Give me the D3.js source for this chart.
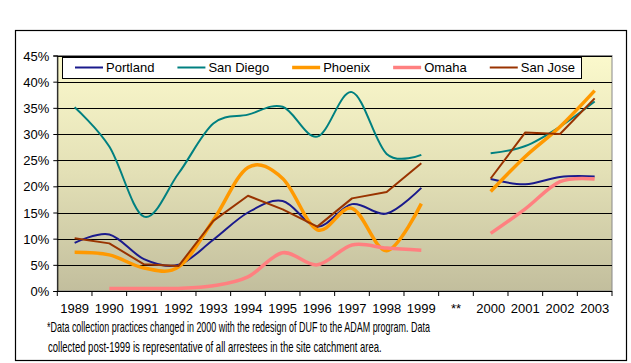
<!DOCTYPE html>
<html>
<head>
<meta charset="utf-8">
<script src="https://cdn.jsdelivr.net/npm/d3@7"></script>
<style>
  body { margin: 0; background: white; }
  text { font-family: "Liberation Sans", Arial, sans-serif; fill: black; }
</style>
</head>
<body>
<div id="chart"></div>
<script>
// categories along the x axis ("**" marks the break in data collection)
const categories = ["1989","1990","1991","1992","1993","1994","1995","1996","1997","1998","1999","**","2000","2001","2002","2003"];
const yTicks = [0, 0.05, 0.10, 0.15, 0.20, 0.25, 0.30, 0.35, 0.40, 0.45];

const seriesNames = ["Portland", "San Diego", "Phoenix", "Omaha", "San Jose"];
const seriesColors = ["#1a1a8c", "#008080", "#ff9900", "#ff8080", "#993300"];
const seriesWidths = [2, 2, 3.5, 3.5, 2];

// values in %, null = no value
const portland = [9.2, 10.8, 6.1, 5.0, 9.8, 15.0, 17.2, 12.3, 16.6, 14.8, 19.7, null, 21.4, 20.4, 21.8, 21.9];
const sanDiego = [35.1, 27.6, 14.2, 22.5, 32.0, 33.7, 35.2, 29.5, 38.0, 26.2, 26.0, null, 26.3, 27.7, 31.4, 36.2];
const phoenix  = [7.4, 6.9, 4.4, 4.6, 13.5, 23.6, 21.5, 11.7, 15.8, 7.7, 16.7, null, 19.0, 25.7, 31.4, 38.3];
const omaha    = [null, 0.5, 0.5, 0.5, 1.0, 2.7, 7.3, 5.0, 8.8, 8.2, 7.8, null, 11.0, 15.7, 20.9, 21.4];
const sanJose  = [10.1, 9.1, 5.1, 4.8, 13.4, 18.2, 15.6, 12.3, 17.7, 18.9, 24.4, null, 21.5, 30.3, 30.0, 36.8];

const seriesValues = [portland, sanDiego, phoenix, omaha, sanJose];
const smoothed = [true, true, true, true, false];

const footnote1 = "*Data collection practices changed in 2000 with the redesign of DUF to the ADAM program.  Data";
const footnote2 = "collected post-1999 is representative of all arrestees in the site catchment area.";

let dim = { width: 631, height: 363 };
let plot = { left: 57.3, right: 612, top: 55.5, bottom: 291 };

let svg = d3.select('#chart').append('svg')
    .attr('width', dim.width)
    .attr('height', dim.height);

// outer frame
svg.append('rect')
    .attr('x', 15.5).attr('y', 30.5)
    .attr('width', 611).attr('height', 330)
    .attr('fill', 'white')
    .attr('stroke', 'black')
    .attr('stroke-width', 1.2);

let defs = svg.append('defs');
let grad = defs.append('linearGradient')
    .attr('id', 'bg').attr('x1', 0).attr('y1', 0).attr('x2', 0).attr('y2', 1);
grad.append('stop').attr('offset', '0%').attr('stop-color', '#fbf9cc');
grad.append('stop').attr('offset', '50%').attr('stop-color', '#e3e0b6');
grad.append('stop').attr('offset', '100%').attr('stop-color', '#c2be9d');

let x = d3.scaleBand().domain(categories).range([plot.left, plot.right]).padding(0);
let y = d3.scaleLinear().domain([0, 0.45]).range([plot.bottom, plot.top]);

svg.append('rect')
    .attr('x', plot.left).attr('y', plot.top)
    .attr('width', plot.right - plot.left).attr('height', plot.bottom - plot.top)
    .attr('fill', 'url(#bg)')
    .attr('stroke', '#888')
    .attr('stroke-width', 1);

// gridlines
svg.append('g').selectAll('line')
    .data(yTicks.slice(1))
    .join('line')
    .attr('x1', plot.left).attr('x2', plot.right)
    .attr('y1', d => Math.round(y(d)) + 0.5).attr('y2', d => Math.round(y(d)) + 0.5)
    .attr('stroke', 'black').attr('stroke-width', 1);

// y axis
let yAxis = d3.axisLeft(y).tickValues(yTicks).tickFormat(d3.format('.0%')).tickSize(4).tickPadding(4);
let gy = svg.append('g')
    .attr('transform', `translate(${plot.left},0)`)
    .call(yAxis);
gy.selectAll('text').style('font-size', '13px').attr('dy', '0.35em');
gy.select('.domain').attr('stroke', 'black');

// x axis: ticks at category boundaries
let gx = svg.append('g').attr('transform', `translate(0,${plot.bottom})`);
gx.append('line')
    .attr('x1', plot.left).attr('x2', plot.right)
    .attr('y1', 0.5).attr('y2', 0.5).attr('stroke', 'black');
gx.selectAll('line.tick')
    .data(categories.concat(['end']))
    .join('line')
    .attr('class', 'tick')
    .attr('x1', (d, i) => i < categories.length ? x(d) : plot.right)
    .attr('x2', (d, i) => i < categories.length ? x(d) : plot.right)
    .attr('y1', 0).attr('y2', 5)
    .attr('stroke', 'black');
gx.selectAll('text')
    .data(categories)
    .join('text')
    .attr('x', d => x(d) + x.bandwidth() / 2)
    .attr('y', 22)
    .attr('text-anchor', 'middle')
    .style('font-size', '13px')
    .text(d => d);

// lines
seriesValues.forEach(function(vals, s) {
    let line = d3.line()
        .defined(d => d != null)
        .x((d, i) => x(categories[i]) + x.bandwidth() / 2)
        .y(d => y(d / 100))
        .curve(smoothed[s] ? d3.curveCardinal.tension(0) : d3.curveLinear);
    svg.append('path')
        .datum(vals)
        .attr('d', line)
        .attr('fill', 'none')
        .attr('stroke', seriesColors[s])
        .attr('stroke-width', seriesWidths[s])
        .attr('stroke-linejoin', 'round')
        .attr('stroke-linecap', 'butt');
});

// legend
let legend = svg.append('g');
legend.append('rect')
    .attr('x', 62.5).attr('y', 57.5)
    .attr('width', 519).attr('height', 21)
    .attr('fill', 'white').attr('stroke', 'black').attr('stroke-width', 1);
let lx = 75;
seriesNames.forEach(function(name, s) {
    legend.append('line')
        .attr('x1', lx).attr('x2', lx + 28)
        .attr('y1', 67.5).attr('y2', 67.5)
        .attr('stroke', seriesColors[s])
        .attr('stroke-width', seriesWidths[s]);
    let t = legend.append('text')
        .attr('x', lx + 31).attr('y', 72)
        .style('font-size', '13px')
        .text(name);
    lx = lx + 31 + t.node().getComputedTextLength() + 23;
});

// footnote, squeezed horizontally like the narrow font of the original
function squeezedText(str, tx, ty, width) {
    let g = svg.append('g');
    let t = g.append('text')
        .attr('x', 0).attr('y', 0)
        .style('font-size', '14px')
        .text(str);
    let k = width / t.node().getComputedTextLength();
    g.attr('transform', `translate(${tx},${ty}) scale(${k},1)`);
}
squeezedText(footnote1, 47, 332, 383);
squeezedText(footnote2, 48, 352, 334);
</script>
</body>
</html>
